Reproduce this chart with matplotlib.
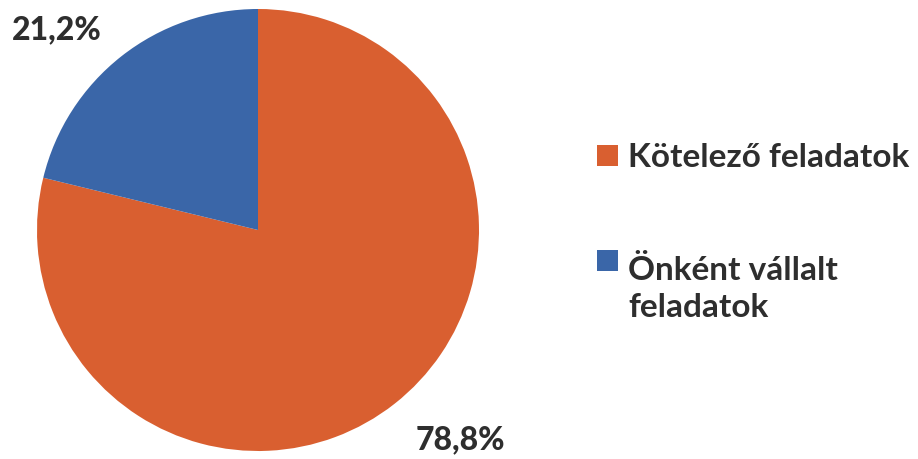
import matplotlib.pyplot as plt
from matplotlib.patches import Rectangle

# Data
categories = ["Kötelező feladatok", "Önként vállalt\nfeladatok"]
shares = [78.8, 21.2]
share_labels = ["78,8%", "21,2%"]
colors = ["#D95F30", "#3A66A8"]

W, H = 918, 459
fig = plt.figure(figsize=(W / 100, H / 100), dpi=100)

# pie centre (258, 230) px, radius 221 px
cx, cy, r = 258, 230, 221
ax = fig.add_axes([(cx - r) / W, (H - cy - r) / H, 2 * r / W, 2 * r / H])
ax.pie(shares, colors=colors, startangle=90, counterclock=False,
       radius=1, wedgeprops=dict(linewidth=0))
ax.set_xlim(-1, 1)
ax.set_ylim(-1, 1)
ax.set_aspect("equal")
ax.axis("off")

# percentage labels
label_pos = [(0.915, -0.95), (-0.91, 0.905)]
for (x, y), txt in zip(label_pos, share_labels):
    ax.text(x, y, txt, ha="center", va="center", fontsize=23,
            fontweight="black", family="Lato", color="#2e2e2e", clip_on=False)

# legend drawn by hand
box_y = [145, 250]
text_y = [167, 272]
line_gap = 45
for cat, col, by, ty in zip(categories, colors, box_y, text_y):
    fig.patches.append(Rectangle((597 / W, 1 - (by + 21) / H), 21 / W, 21 / H,
                                 transform=fig.transFigure, facecolor=col,
                                 edgecolor="none"))
    # baseline of the last line of the label
    last = ty + line_gap * cat.count("\n")
    fig.text(628 / W, 1 - last / H, cat, ha="left", va="baseline",
             fontsize=24, family="Lato", fontweight="bold", color="#2e2e2e",
             linespacing=1.35)

fig.savefig("out.png", dpi=100)
